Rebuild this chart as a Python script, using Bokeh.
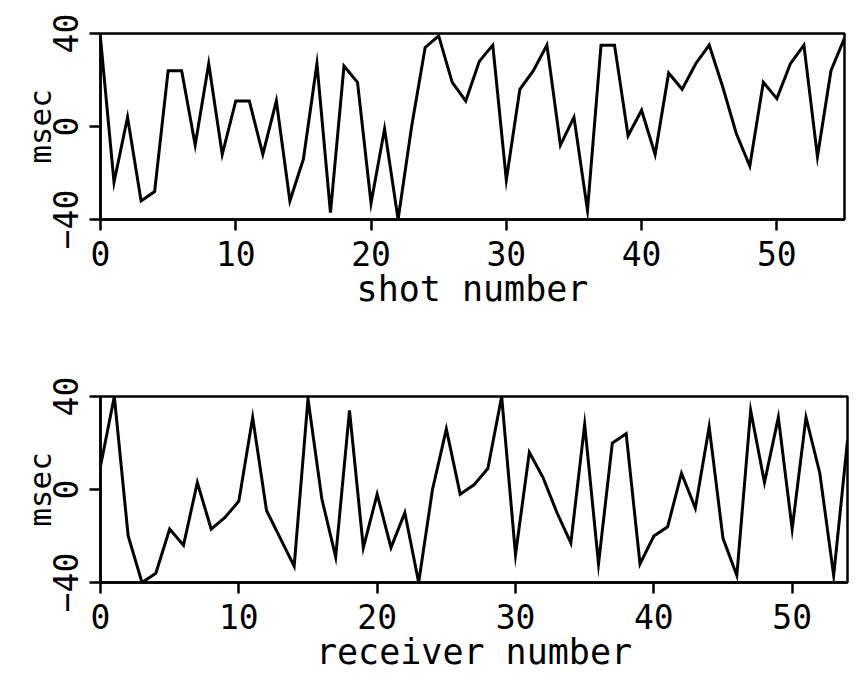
from bokeh.plotting import figure
from bokeh.layouts import column
from bokeh.models import FixedTicker, Range1d
from bokeh.embed import file_html
from bokeh.resources import INLINE

# ---- data ----
shot_number = list(range(56))
shot_msec = [38, -24, 4, -32, -28, 24, 24, -8, 27, -12,
             11, 11, -12, 11, -32, -14, 27, -37, 26, 19,
             -33, -1, -40, 0, 34, 39, 19, 11, 28, 35,
             -23, 16, 24, 35, -8, 4, -36, 35, 35, -4,
             7, -12, 23, 16, 27, 35, 17, -3, -17, 19,
             12, 27, 35, -13, 24, 38]

receiver_number = list(range(55))
receiver_msec = [10, 40, -20, -40, -36, -17, -24, 3, -17, -12,
                 -5, 31, -9, -21, -33, 39, -4, -29, 34, -25,
                 -2, -25, -10, -40, 0, 26, -2, 2, 9, 40,
                 -28, 16, 5, -10, -23, 28, -32, 20, 24, -32,
                 -20, -16, 7, -8, 27, -21, -37, 34, 3, 31,
                 -17, 31, 7, -37, 21]

x_ticks = [0, 10, 20, 30, 40, 50]
y_ticks = [-40, 0, 40]
y_label = "msec"
top_xlabel = "shot number"
bottom_xlabel = "receiver number"

FONT = "DejaVu Sans Mono"


def make_panel(xs, ys, xmax, xlabel, fw, fh, left, right, top, bottom):
    p = figure(frame_width=fw, frame_height=fh,
               x_range=Range1d(0, xmax), y_range=Range1d(-40, 40),
               output_backend="svg", toolbar_location=None,
               min_border_left=left, min_border_right=right,
               min_border_top=top, min_border_bottom=bottom,
               background_fill_color="white", border_fill_color="white")
    p.line(xs, ys, line_color="black", line_width=3, line_join="miter")
    p.grid.visible = False
    p.outline_line_color = "black"
    p.outline_line_width = 2.5
    p.outline_line_alpha = 1

    p.xaxis.ticker = FixedTicker(ticks=x_ticks)
    p.yaxis.ticker = FixedTicker(ticks=y_ticks)
    for ax in (p.xaxis, p.yaxis):
        ax.axis_line_color = "black"
        ax.axis_line_width = 2.5
        ax.major_tick_line_color = "black"
        ax.major_tick_line_width = 2.5
        ax.major_tick_out = 11
        ax.major_tick_in = 0
        ax.minor_tick_line_color = None
        ax.major_label_text_font = FONT
        ax.major_label_text_font_size = "33px"
        ax.major_label_text_color = "black"
        ax.axis_label_text_font = FONT
        ax.axis_label_text_font_style = "normal"
        ax.axis_label_text_color = "black"
    p.xaxis.axis_label = xlabel
    p.xaxis.axis_label_text_font_size = "35px"
    p.xaxis.major_label_standoff = 10
    p.xaxis.axis_label_standoff = 0
    p.yaxis.axis_label = y_label
    p.yaxis.axis_label_text_font_size = "31px"
    p.yaxis.major_label_orientation = "vertical"
    p.yaxis.major_label_standoff = 12
    p.yaxis.axis_label_standoff = -8
    return p


p1 = make_panel(shot_number, shot_msec, 55, top_xlabel,
                744, 186, 100, 23, 33, 117)
p2 = make_panel(receiver_number, receiver_msec, 54, bottom_xlabel,
                747, 186, 93, 27, 60, 99)

layout = column(p1, p2, spacing=0)
open("out.html", "w").write(file_html(layout, INLINE))
